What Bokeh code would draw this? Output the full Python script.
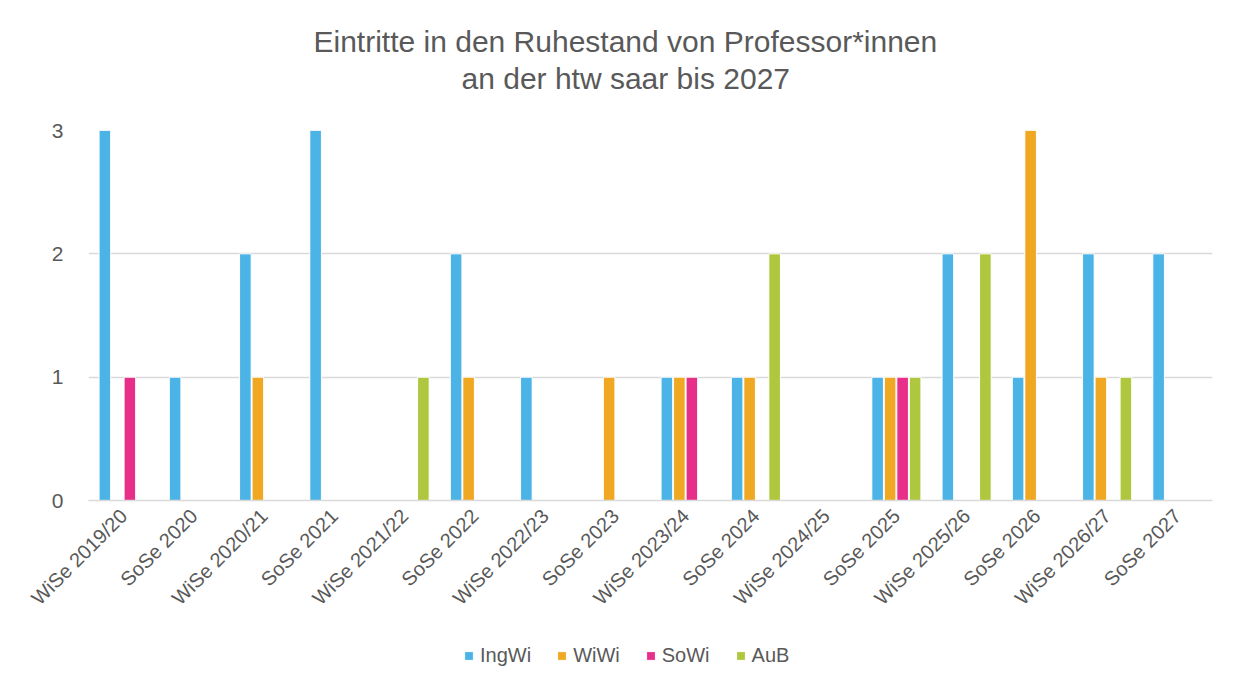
import math
from bokeh.plotting import figure
from bokeh.layouts import column
from bokeh.models import (ColumnDataSource, FactorRange, Legend, LegendItem, FixedTicker,
                          Title, Range1d)
from bokeh.transform import dodge
from bokeh.embed import file_html
from bokeh.resources import INLINE

categories = ["WiSe 2019/20", "SoSe 2020", "WiSe 2020/21", "SoSe 2021", "WiSe 2021/22",
              "SoSe 2022", "WiSe 2022/23", "SoSe 2023", "WiSe 2023/24", "SoSe 2024",
              "WiSe 2024/25", "SoSe 2025", "WiSe 2025/26", "SoSe 2026", "WiSe 2026/27",
              "SoSe 2027"]
IngWi = [3, 1, 2, 3, 0, 2, 1, 0, 1, 1, 0, 1, 2, 1, 2, 2]
WiWi  = [0, 0, 1, 0, 0, 1, 0, 1, 1, 1, 0, 1, 0, 3, 1, 0]
SoWi  = [1, 0, 0, 0, 0, 0, 0, 0, 1, 0, 0, 1, 0, 0, 0, 0]
AuB   = [0, 0, 0, 0, 1, 0, 0, 0, 0, 2, 0, 1, 2, 0, 1, 0]
series = ["IngWi", "WiWi", "SoWi", "AuB"]
colors = ["#4BB3E5", "#F0A822", "#E72E89", "#AFC73F"]
y_ticks = [0, 1, 2, 3]
title_lines = ["Eintritte in den Ruhestand von Professor*innen", "an der htw saar bis 2027"]

src = ColumnDataSource(dict(cat=categories, IngWi=IngWi, WiWi=WiWi, SoWi=SoWi, AuB=AuB))

p = figure(frame_width=1124, frame_height=370, x_range=FactorRange(*categories, range_padding=0),
           y_range=(0, 3), output_backend="svg", toolbar_location=None,
           min_border_left=88, min_border_right=22, min_border_top=130, min_border_bottom=140)
p.title.text = ""

# spacer between frame and the title block
p.add_layout(Title(text=" ", text_font="Liberation Sans", text_font_size="30px", standoff=1),
             "above")
# second line closest to the frame, first line above it
title_offsets = [373, 225]
title_standoffs = [0, 4]
for t, off, so in zip(reversed(title_lines), title_offsets, title_standoffs):
    ttl = Title(text=t, align="left", text_font="Liberation Sans", text_font_size="30px",
                text_font_style="normal", text_color="#595959", offset=off, standoff=so)
    p.add_layout(ttl, "above")

offsets = [-0.267, -0.089, 0.089, 0.267]
for s, c, o in zip(series, colors, offsets):
    p.vbar(x=dodge("cat", o, range=p.x_range), top=s, width=0.165, source=src,
           fill_color=c, line_color="white", line_width=1)

p.outline_line_color = None
p.xgrid.grid_line_color = None
p.ygrid.grid_line_color = "#d9d9d9"
p.ygrid.grid_line_width = 1.5
p.yaxis.ticker = FixedTicker(ticks=y_ticks)
p.yaxis.axis_line_color = None
p.yaxis.major_tick_line_color = None
p.yaxis.minor_tick_line_color = None
p.yaxis.major_label_text_font = "Liberation Sans"
p.yaxis.major_label_text_font_size = "21px"
p.yaxis.major_label_text_color = "#595959"
p.yaxis.major_label_standoff = 19

p.xaxis.axis_line_color = "#d9d9d9"
p.xaxis.axis_line_width = 1.5
p.xaxis.major_tick_line_color = None
p.xaxis.minor_tick_line_color = None
p.xaxis.major_tick_out = 0
p.xaxis.major_label_orientation = math.pi / 4
p.xaxis.major_label_text_font = "Liberation Sans"
p.xaxis.major_label_text_font_size = "20px"
p.xaxis.major_label_text_color = "#595959"
p.xaxis.major_label_standoff = 12

# legend strip below the chart (legend-only renderers, kept outside the visible range)
lg = figure(width=1234, height=47, x_range=Range1d(0, 1), y_range=Range1d(0, 1),
            output_backend="svg", toolbar_location=None, x_axis_type=None, y_axis_type=None,
            min_border=0)
lg.outline_line_color = None
lg.xgrid.visible = False
lg.ygrid.visible = False
items = []
for s, c in zip(series, colors):
    r = lg.vbar(x=[-5], top=[-5], bottom=[-6], width=0.1, fill_color=c,
                line_color="white", line_width=1)
    items.append(LegendItem(label=s, renderers=[r]))
legend = Legend(items=items, orientation="horizontal", location=(375, 20),
                label_text_font="Liberation Sans", label_text_font_size="20px",
                label_text_color="#595959", glyph_width=11, glyph_height=11,
                label_standoff=6, spacing=25, border_line_color=None,
                background_fill_alpha=0, margin=0, padding=0)
lg.add_layout(legend, "center")

layout = column(p, lg, spacing=0)
open("out.html", "w").write(file_html(layout, INLINE))
